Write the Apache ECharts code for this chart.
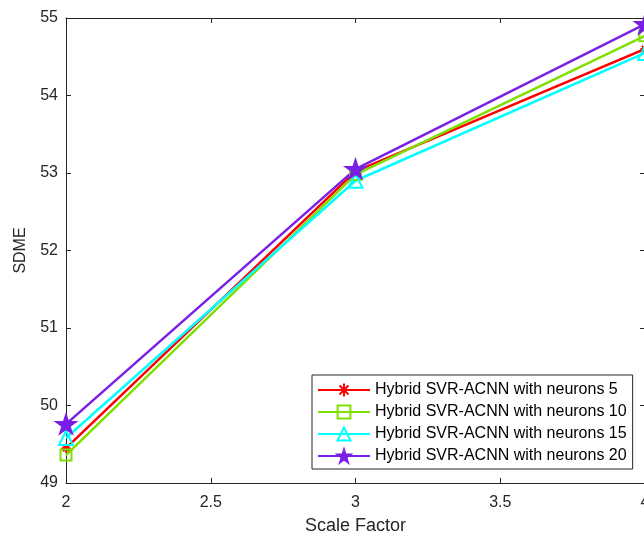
<!DOCTYPE html>
<html><head><meta charset="utf-8">
<script src="https://cdn.jsdelivr.net/npm/echarts@6/dist/echarts.min.js"></script>
<style>html,body{margin:0;padding:0;background:#fff}#c{width:644px;height:542px}</style>
</head><body><div id="c"></div>
<script>
var scaleFactor = [2, 3, 4];
var neurons5  = [49.45, 53.02, 54.60];
var neurons10 = [49.36, 52.98, 54.77];
var neurons15 = [49.58, 52.90, 54.55];
var neurons20 = [49.76, 53.05, 54.92];
var seriesNames = ['Hybrid SVR-ACNN with neurons 5','Hybrid SVR-ACNN with neurons 10','Hybrid SVR-ACNN with neurons 15','Hybrid SVR-ACNN with neurons 20'];

function pts(v){ return scaleFactor.map(function(x,i){return [x, v[i]];}); }
var starPath = 'path://M10,0L12.245,6.91L19.51,6.91L13.63,11.18L15.88,18.09L10,13.82L4.12,18.09L6.37,11.18L0.49,6.91L7.755,6.91Z';
var asterPath = 'path://M0,5L10,5M5,0L5,10M1.5,1.5L8.5,8.5M8.5,1.5L1.5,8.5';
var axisCol = '#262626';
var font = 'Liberation Sans, Arial, sans-serif';

var chart = echarts.init(document.getElementById('c'));
function mk(name, data, color, symbol, size, fill){
  return {
    name: name, type: 'line', data: pts(data), symbol: symbol, symbolSize: size, symbolKeepAspect: true,
    lineStyle: {color: color, width: 2.5},
    itemStyle: {color: fill ? color : 'rgba(255,255,255,0)', borderColor: color, borderWidth: 2},
    emphasis: {disabled: true}, animation: false
  };
}
chart.setOption({
  animation: false,
  grid: {left: 66, top: 18, width: 579, height: 465, containLabel: false, outerBoundsMode: 'none'},
  legend: {
    orient: 'vertical', left: 312, top: 375, padding: [7, 6, 5, 5], itemGap: 6, itemWidth: 52, itemHeight: 16,
    backgroundColor: '#fff', borderColor: axisCol, borderWidth: 1, borderRadius: 0,
    textStyle: {fontSize: 16, color: '#000', fontFamily: font},
    data: seriesNames
  },
  xAxis: [{
    type: 'value', min: 2, max: 4, interval: 0.5, position: 'bottom',
    name: 'Scale Factor', nameLocation: 'middle', nameGap: 34,
    nameTextStyle: {fontSize: 18, color: axisCol, fontFamily: font},
    axisLine: {lineStyle: {color: axisCol, width: 1}},
    axisTick: {inside: true, length: 5, lineStyle: {color: axisCol}},
    axisLabel: {fontSize: 16, color: axisCol, margin: 12, fontFamily: font},
    splitLine: {show: false}
  },{
    type: 'value', min: 2, max: 4, interval: 0.5, position: 'top',
    axisLine: {lineStyle: {color: axisCol, width: 1}},
    axisTick: {inside: true, length: 5, lineStyle: {color: axisCol}},
    axisLabel: {show: false}, splitLine: {show: false}
  }],
  yAxis: [{
    type: 'value', min: 49, max: 55, interval: 1, position: 'left',
    name: 'SDME', nameLocation: 'middle', nameGap: 37,
    nameTextStyle: {fontSize: 16, color: axisCol, fontFamily: font},
    axisLine: {show: true, lineStyle: {color: axisCol, width: 1}},
    axisTick: {show: true, inside: true, length: 5, lineStyle: {color: axisCol}},
    axisLabel: {fontSize: 16, color: axisCol, margin: 8, fontFamily: font},
    splitLine: {show: false}
  },{
    type: 'value', min: 49, max: 55, interval: 1, position: 'right',
    axisLine: {show: true, lineStyle: {color: axisCol, width: 1}},
    axisTick: {show: true, inside: true, length: 5, lineStyle: {color: axisCol}},
    axisLabel: {show: false}, splitLine: {show: false}
  }],
  series: [
    mk(seriesNames[0], neurons5, '#ff0000', asterPath, 9, false),
    mk(seriesNames[1], neurons10, '#7fe000', 'rect', 11, false),
    mk(seriesNames[2], neurons15, '#00ffff', 'triangle', 14, false),
    mk(seriesNames[3], neurons20, '#7a1fe6', starPath, 19, true)
  ]
});
</script></body></html>
